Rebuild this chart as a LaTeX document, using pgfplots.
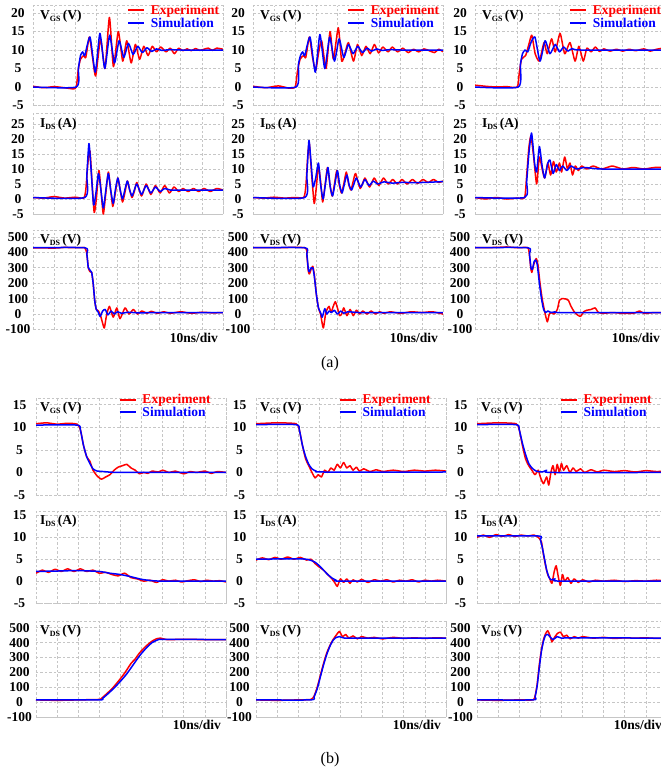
\documentclass[border=0pt]{standalone}
\usepackage{fontspec}
\setmainfont{Liberation Serif}
\usepackage{pgfplots}
\pgfplotsset{compat=1.18}
\newcommand{\tf}{\fontsize{13.5}{14}\selectfont\bfseries}
\newcommand{\qlab}[3]{\tf #1\raisebox{-0.35ex}{\fontsize{8}{8}\selectfont\bfseries #2}\,(#3)}
\pgfplotsset{
  wf/.style={scale only axis, width=190pt, xmin=0, xmax=9, xtick={0,1,...,9}, xticklabels={},
    grid=major, major grid style={gray!45, dash pattern=on 2.5pt off 2pt, line width=0.7pt},
    axis line style={gray!45, dash pattern=on 2.5pt off 2pt, line width=0.7pt},
    major tick length=0pt, anchor=north west, yticklabel style={font=\tf, anchor=center}, clip mode=individual,
    legend cell align=left,
    legend image code/.code={\draw[##1, line width=1.8pt] (0pt,0pt) -- (16pt,0pt); \path (20pt,0pt);}},
  ex/.style={red, line width=1.5pt, line join=round, smooth, tension=0.35},
  si/.style={blue, line width=1.5pt, line join=round, smooth, tension=0.35},
  ca/.style={yticklabel style={xshift=-15pt}},
  cb/.style={yticklabel style={xshift=-16.5pt}},
  aV/.style={wf, ca, height=99.9pt, ymin=-5, ymax=22, ytick={-5,0,5,10,15,20}, yticklabels={-5,0,5,10,15,20},
    legend style={draw=none, fill=none, at={(axis description cs:0.495,1.03)}, anchor=north west, font=\tf, inner sep=0pt, row sep=-2pt}},
  aI/.style={wf, ca, height=100.5pt, ymin=-5, ymax=28.5, ytick={-5,0,5,10,15,20,25}, yticklabels={-5,0,5,10,15,20,25}},
  aD/.style={wf, ca, height=99.5pt, ymin=-100, ymax=545, ytick={-100,0,100,200,300,400,500}, yticklabels={-100,0,100,200,300,400,500}},
  bV/.style={wf, cb, height=97pt, ymin=-5, ymax=16.5, ytick={-5,0,5,10,15}, yticklabels={-5,0,5,10,15},
    legend style={draw=none, fill=none, at={(axis description cs:0.435,1.06)}, anchor=north west, font=\tf, inner sep=0pt, row sep=-2.5pt}},
  bI/.style={wf, cb, height=92pt, ymin=-5, ymax=16, ytick={-5,0,5,10,15}, yticklabels={-5,0,5,10,15}},
  bD/.style={wf, cb, height=96pt, ymin=-100, ymax=545, ytick={-100,0,100,200,300,400,500}, yticklabels={-100,0,100,200,300,400,500}},
}
\newcommand{\lab}[4]{\node[anchor=north west, inner sep=0pt] at (axis description cs:0,1) [xshift=#4pt, yshift=-4pt] {\qlab{#1}{#2}{#3}};}
\newcommand{\perdiv}{\node[anchor=north east, inner sep=0pt, font=\tf] at (axis description cs:1,0) [xshift=-5pt, yshift=-3pt] {10ns/div};}
\begin{document}
\begin{tikzpicture}
\path[use as bounding box] (0,0) rectangle (661pt,-772pt);
% ===================== (a) row 1 : VGS =====================
\begin{axis}[aV, at={(33pt,-5.6pt)}]
\addplot[ex] coordinates {(0,0.2)(0.5,-0.2)(1,0.1)(1.5,-0.2)(1.9,-0.5)(2.05,0)(2.15,5)(2.25,7.5)(2.4,8.5)(2.5,8)(2.67,13.5)(2.82,8)(2.97,3)(3.2,13)(3.41,5)(3.62,18.8)(3.81,5.5)(4.04,15)(4.25,7)(4.44,12.5)(4.65,6.5)(4.85,11.5)(5.05,7.5)(5.25,11)(5.45,8.5)(5.65,11)(5.85,9.5)(6.05,10.8)(6.3,9.5)(6.5,10.5)(6.7,9)(6.9,10.5)(7.1,9.8)(7.3,10.3)(7.5,9.8)(7.7,10.4)(7.9,9.9)(8.1,10.2)(8.3,10.5)(8.5,9.9)(8.7,10.5)(9,10.2)};
\addlegendentry{\textcolor{red}{Experiment}}
\addplot[si] coordinates {(0,0)(2.05,0)(2.15,5)(2.25,8.5)(2.35,9.5)(2.45,8.5)(2.7,13.5)(2.95,4)(3.17,14.5)(3.4,5)(3.63,14)(3.86,6.5)(4.08,12.5)(4.3,8)(4.52,11.8)(4.74,8.8)(4.96,11)(5.18,9.3)(5.4,10.6)(5.62,9.6)(5.85,10.3)(6.1,9.9)(6.5,10.1)(7,10)(9,10)};
\addlegendentry{\textcolor{blue}{Simulation}}
\lab{V}{GS}{V}{7}
\end{axis}
\begin{axis}[aV, at={(253pt,-5.6pt)}]
\addplot[ex] coordinates {(0,0.2)(0.6,-0.2)(1.2,0.3)(1.7,-0.3)(2.0,0)(2.1,4)(2.23,7.5)(2.4,8.5)(2.5,8)(2.67,13.5)(2.82,8)(2.97,4.5)(3.1,9)(3.25,12.5)(3.46,5)(3.65,15)(3.81,7.5)(4.04,16)(4.2,7)(4.35,9)(4.52,12)(4.76,7)(4.95,11.5)(5.15,8.5)(5.35,11)(5.55,9)(5.75,11.5)(5.95,9.2)(6.15,10.8)(6.4,9.5)(6.6,10.8)(6.85,9.5)(7.1,10.5)(7.35,9.3)(7.6,10.2)(7.85,9.5)(8.1,10.3)(8.35,9.8)(8.6,9.3)(8.8,10.2)(9,9.5)};
\addlegendentry{\textcolor{red}{Experiment}}
\addplot[si] coordinates {(0,0)(2.04,0)(2.15,6)(2.25,8.5)(2.35,9.5)(2.45,8.5)(2.7,13.5)(2.95,4)(3.17,14.2)(3.4,5)(3.63,13.5)(3.86,7)(4.08,13)(4.3,8)(4.52,11.5)(4.74,9)(4.96,11)(5.18,9.3)(5.4,10.5)(5.62,9.7)(5.85,10.3)(6.1,9.9)(6.5,10.1)(7,10)(9,10)};
\addlegendentry{\textcolor{blue}{Simulation}}
\lab{V}{GS}{V}{7}
\end{axis}
\begin{axis}[aV, at={(475pt,-5.6pt)}]
\addplot[ex] coordinates {(0,0.5)(0.5,0.2)(1,0)(1.5,0.1)(2.0,0)(2.1,4)(2.2,7.5)(2.29,8)(2.4,8.5)(2.55,11.5)(2.69,14)(2.85,9)(3.05,7)(3.27,12)(3.42,9)(3.63,13)(3.8,9.5)(4.03,14.5)(4.25,9)(4.5,12)(4.74,7)(4.92,11)(5.13,7)(5.3,10.5)(5.5,9.5)(5.7,10.8)(5.9,9.6)(6.1,10.3)(6.4,9.7)(6.7,10.2)(7,9.7)(7.3,10.2)(7.6,9.8)(8,10.3)(8.3,9.7)(8.6,10.2)(9,10.6)};
\addlegendentry{\textcolor{red}{Experiment}}
\addplot[si] coordinates {(0,0)(2.05,0)(2.15,6)(2.25,9)(2.37,10)(2.5,9.5)(2.65,12)(2.84,13.5)(3.08,7)(3.32,12.5)(3.55,9)(3.8,11.5)(4.0,9.5)(4.2,10.8)(4.4,9.7)(4.6,10.4)(5,10)(9,10)};
\addlegendentry{\textcolor{blue}{Simulation}}
\lab{V}{GS}{V}{7}
\end{axis}
% ===================== (a) row 2 : IDS =====================
\begin{axis}[aI, at={(33pt,-113.5pt)}]
\addplot[ex] coordinates {(0,0.5)(0.5,0.3)(1,0.8)(1.5,0.3)(2,0.6)(2.4,0.3)(2.5,3)(2.6,12)(2.7,16)(2.8,5)(2.9,-4.5)(3.0,0)(3.12,9.5)(3.22,3)(3.33,-5)(3.45,2)(3.57,9)(3.68,3)(3.78,-2.5)(3.9,2)(4.02,7)(4.13,3)(4.24,-1)(4.35,2)(4.47,6)(4.58,3)(4.69,0.5)(4.8,2.5)(4.92,5.5)(5.14,1)(5.36,5)(5.58,1.5)(5.8,4.5)(6.02,2)(6.24,4.5)(6.46,2)(6.68,4)(6.9,2.5)(7.1,3.5)(7.35,2.5)(7.6,3.5)(7.85,2.5)(8.1,3.5)(8.4,2.5)(8.7,3.5)(9,3)};
\addplot[si] coordinates {(0,0.5)(2.45,0.5)(2.55,8)(2.65,18.5)(2.75,10)(2.87,-2)(2.98,2)(3.1,8.5)(3.2,4)(3.33,-3)(3.45,3)(3.57,8.5)(3.68,3)(3.8,-1.5)(3.9,3)(4.02,7)(4.13,3)(4.24,0)(4.35,3)(4.47,6)(4.58,3)(4.69,1)(4.8,3)(4.92,5)(5.14,1.5)(5.36,4.5)(5.58,2)(5.8,4)(6.02,2.5)(6.24,3.5)(6.5,3)(7,3)(8,3)(9,3)};
\lab{I}{DS}{A}{7}
\end{axis}
\begin{axis}[aI, at={(253pt,-113.5pt)}]
\addplot[ex] coordinates {(0,0.5)(0.5,0.3)(1,0.6)(1.5,0.3)(2,0.5)(2.4,0.5)(2.5,4)(2.6,15)(2.67,18.5)(2.78,8)(2.9,-1.5)(3.0,4)(3.1,11)(3.2,6)(3.3,-1)(3.42,5)(3.53,10.5)(3.64,5)(3.75,1)(3.86,5)(3.97,9.5)(4.08,5)(4.19,2)(4.3,5)(4.42,9)(4.53,5)(4.64,3)(4.75,6)(4.86,8.5)(5.08,3.5)(5.3,7)(5.52,4)(5.74,7)(5.96,4.5)(6.18,7)(6.4,5)(6.62,6.5)(6.84,5)(7.06,6.5)(7.3,5)(7.55,6.5)(7.8,5.2)(8.05,6.5)(8.3,5.5)(8.55,6.5)(8.8,5.5)(9,6)};
\addplot[si] coordinates {(0,0.5)(2.45,0.5)(2.55,8)(2.65,19.5)(2.75,12)(2.85,4)(2.97,7)(3.1,12)(3.2,5)(3.32,0)(3.43,5)(3.55,10.5)(3.66,4)(3.77,1)(3.88,5)(4.0,9.5)(4.11,4.5)(4.22,2)(4.33,5)(4.45,8)(4.56,4.5)(4.67,3)(4.78,5)(4.9,7)(5.1,4)(5.3,6.5)(5.5,4.5)(5.7,6)(5.9,5)(6.2,5.7)(6.6,5.3)(7,5.5)(8,5.5)(9,5.8)};
\lab{I}{DS}{A}{7}
\end{axis}
\begin{axis}[aI, at={(475pt,-113.5pt)}]
\addplot[ex] coordinates {(0,0.5)(0.5,0)(1,0.5)(1.5,0)(2,0.3)(2.35,0.5)(2.45,8)(2.55,17)(2.65,21)(2.78,14)(2.92,5)(3.05,14)(3.18,10)(3.3,7)(3.45,12)(3.58,8)(3.72,12.5)(3.85,9)(4.0,12)(4.1,9)(4.25,14)(4.38,10)(4.5,12)(4.62,8)(4.75,11)(4.9,9.5)(5.05,11)(5.3,10)(5.6,11)(6,10)(6.5,11)(7,10)(7.5,10.5)(8,10)(8.5,10.5)(9,10.5)};
\addplot[si] coordinates {(0,0.5)(2.35,0.5)(2.45,6)(2.55,15)(2.68,22)(2.82,12)(2.92,9)(3.05,17.5)(3.18,11)(3.3,7)(3.45,12)(3.55,13)(3.7,8.5)(3.85,11.5)(4.0,9.5)(4.15,11)(4.35,9.5)(4.55,11)(4.8,10)(5.2,10.5)(6,10)(9,10)};
\lab{I}{DS}{A}{7}
\end{axis}
% ===================== (a) row 3 : VDS =====================
\begin{axis}[aD, at={(33pt,-230pt)}]
\addplot[ex] coordinates {(0,430)(1,428)(1.5,432)(2,430)(2.45,430)(2.55,390)(2.62,300)(2.7,275)(2.78,270)(2.85,200)(2.93,80)(3.0,30)(3.1,20)(3.2,-10)(3.3,-60)(3.38,-90)(3.48,-10)(3.62,50)(3.8,-20)(3.97,40)(4.12,-30)(4.36,40)(4.55,0)(4.75,30)(4.95,0)(5.15,20)(5.4,5)(5.6,18)(5.9,5)(6.2,15)(6.5,5)(7,15)(7.5,5)(8,12)(8.5,8)(9,10)};
\addplot[si] coordinates {(0,430)(2.45,430)(2.55,390)(2.62,300)(2.7,285)(2.78,270)(2.85,200)(2.93,80)(3.0,30)(3.08,15)(3.18,-15)(3.3,20)(3.42,30)(3.55,-5)(3.7,20)(3.85,0)(4.0,15)(4.2,5)(4.5,12)(5,8)(6,10)(9,10)};
\lab{V}{DS}{V}{7}
\perdiv
\end{axis}
\begin{axis}[aD, at={(253pt,-230pt)}]
\addplot[ex] coordinates {(0,430)(1,430)(2.45,430)(2.55,380)(2.62,280)(2.67,260)(2.75,290)(2.83,310)(2.9,260)(3.0,130)(3.1,40)(3.2,0)(3.33,-90)(3.45,10)(3.6,50)(3.7,10)(3.8,50)(3.9,80)(4.0,40)(4.1,-10)(4.2,0)(4.3,40)(4.45,-10)(4.6,30)(4.75,-10)(4.9,25)(5.05,0)(5.2,20)(5.4,0)(5.6,20)(5.8,0)(6.0,15)(6.2,5)(6.5,15)(7,5)(7.5,15)(8,10)(8.5,15)(9,0)};
\addplot[si] coordinates {(0,430)(2.45,430)(2.55,390)(2.62,290)(2.67,275)(2.75,300)(2.83,300)(2.9,250)(3.0,130)(3.1,40)(3.2,10)(3.28,-20)(3.4,35)(3.5,0)(3.6,20)(3.72,10)(3.85,25)(4.0,0)(4.15,20)(4.3,5)(4.5,15)(5,10)(6,10)(9,10)};
\lab{V}{DS}{V}{7}
\perdiv
\end{axis}
\begin{axis}[aD, at={(475pt,-230pt)}]
\addplot[ex] coordinates {(0,430)(1,432)(1.5,435)(2,430)(2.5,430)(2.58,380)(2.64,300)(2.69,270)(2.78,320)(2.9,360)(2.98,320)(3.08,200)(3.18,100)(3.28,30)(3.36,-20)(3.43,-50)(3.52,0)(3.62,10)(3.75,0)(3.9,30)(4.0,90)(4.11,100)(4.3,98)(4.42,90)(4.55,50)(4.7,15)(4.85,-5)(5.0,-15)(5.15,15)(5.3,25)(5.5,30)(5.69,40)(5.85,10)(6.1,5)(6.5,10)(7,5)(7.5,5)(7.8,20)(8,5)(8.5,10)(9,10)};
\addplot[si] coordinates {(0,430)(2.5,430)(2.58,390)(2.65,300)(2.72,290)(2.8,340)(2.88,350)(2.95,320)(3.05,200)(3.15,100)(3.25,30)(3.35,10)(3.45,20)(3.6,10)(3.8,15)(4,10)(9,10)};
\lab{V}{DS}{V}{7}
\perdiv
\end{axis}
% ===================== (b) row 1 : VGS =====================
\begin{axis}[bV, at={(36pt,-398pt)}]
\addplot[ex] coordinates {(0,10.8)(0.5,11)(1,10.7)(1.5,10.9)(1.95,10.7)(2.1,9.5)(2.25,6)(2.4,3.5)(2.55,2.5)(2.7,0.5)(2.9,-0.8)(3.1,-1.5)(3.3,-1)(3.5,-0.5)(3.7,0.5)(3.9,1.2)(4.1,1.5)(4.3,1.8)(4.5,1)(4.7,0.5)(4.9,-0.3)(5.1,0)(5.3,-0.2)(5.5,0.3)(5.8,0.1)(6.0,0.5)(6.3,0)(6.6,0.3)(7.0,-0.3)(7.3,0.2)(7.6,0)(8,0.3)(8.3,-0.2)(8.6,0.2)(9,0)};
\addlegendentry{\textcolor{red}{Experiment}}
\addplot[si] coordinates {(0,10.5)(1.95,10.5)(2.1,9.5)(2.25,6)(2.4,3.5)(2.55,2)(2.7,0.8)(2.9,0.3)(3.2,0.2)(4,0)(9,0)};
\addlegendentry{\textcolor{blue}{Simulation}}
\lab{V}{GS}{V}{4}
\end{axis}
\begin{axis}[bV, at={(256pt,-398pt)}]
\addplot[ex] coordinates {(0,10.8)(1,11)(1.9,10.8)(2.05,9.5)(2.2,6)(2.35,3)(2.5,1.5)(2.65,0)(2.8,-1.2)(2.95,-0.5)(3.1,-1)(3.25,0.5)(3.4,0)(3.55,1)(3.7,0.5)(3.85,1.8)(4.0,1)(4.15,2.2)(4.3,1)(4.45,1.5)(4.6,0.5)(4.75,1.2)(4.9,0.3)(5.1,0.8)(5.4,0.2)(5.7,0.6)(6,0.2)(6.5,0.5)(7,0.2)(7.5,0.5)(8,0.3)(8.5,0.5)(9,0.3)};
\addlegendentry{\textcolor{red}{Experiment}}
\addplot[si] coordinates {(0,10.6)(1.9,10.6)(2.05,9.5)(2.2,6)(2.35,3.5)(2.5,1.8)(2.65,0.8)(2.85,0.3)(3.2,0.1)(9,0.1)};
\addlegendentry{\textcolor{blue}{Simulation}}
\lab{V}{GS}{V}{4}
\end{axis}
\begin{axis}[bV, at={(477pt,-398pt)}]
\addplot[ex] coordinates {(0,10.8)(1,11)(1.85,10.8)(2.0,9.5)(2.15,6)(2.3,3)(2.45,1.5)(2.6,0.5)(2.75,-0.5)(2.9,0.5)(3.0,-1)(3.15,-2.5)(3.3,-1)(3.4,-2.8)(3.5,0)(3.6,1.5)(3.7,-0.5)(3.8,1.8)(3.9,0)(4.0,2)(4.1,0.5)(4.25,1.5)(4.4,0)(4.55,1)(4.7,0.2)(4.9,0.8)(5.1,0)(5.4,0.6)(5.7,0.1)(6,0.5)(6.5,0.2)(7,0.4)(7.5,0.1)(8,0.4)(8.5,0.2)(9,0.3)};
\addlegendentry{\textcolor{red}{Experiment}}
\addplot[si] coordinates {(0,10.6)(1.85,10.6)(2.0,9.5)(2.15,6.5)(2.3,4)(2.45,2)(2.6,1)(2.8,0.3)(3.1,0.1)(3.3,0.5)(3.5,0)(9,0)};
\addlegendentry{\textcolor{blue}{Simulation}}
\lab{V}{GS}{V}{4}
\end{axis}
% ===================== (b) row 2 : IDS =====================
\begin{axis}[bI, at={(36pt,-511pt)}]
\addplot[ex] coordinates {(0,1.8)(0.3,2.5)(0.6,2.0)(0.9,2.7)(1.2,2.2)(1.5,2.8)(1.8,2.2)(2.1,2.8)(2.4,2.2)(2.7,2.5)(3.0,1.8)(3.3,2.0)(3.6,1.5)(3.9,1.2)(4.2,1.8)(4.5,0.8)(4.8,0.5)(5.1,0)(5.4,0.2)(5.7,-0.3)(6.0,0.3)(6.3,0)(6.6,0.2)(6.9,-0.2)(7.2,0.1)(7.5,0.3)(7.8,-0.1)(8.1,0.2)(8.4,0)(8.7,0.1)(9,-0.2)};
\addplot[si] coordinates {(0,2.2)(1,2.3)(2,2.4)(3,2.2)(3.5,1.8)(4,1.5)(4.5,1.0)(5,0.4)(5.5,0.1)(6,0)(9,0)};
\lab{I}{DS}{A}{4}
\end{axis}
\begin{axis}[bI, at={(256pt,-511pt)}]
\addplot[ex] coordinates {(0,4.8)(0.3,5.3)(0.6,4.9)(0.9,5.4)(1.2,5.0)(1.5,5.5)(1.8,5.0)(2.1,5.4)(2.4,4.8)(2.6,5.0)(2.8,4.0)(3.0,3.2)(3.2,2.5)(3.4,1.5)(3.6,0.5)(3.75,-0.5)(3.85,-1.2)(4.0,0.5)(4.15,-0.3)(4.3,0.5)(4.45,-0.5)(4.6,0.3)(4.8,-0.2)(5.0,0.4)(5.3,-0.3)(5.6,0.3)(5.9,0)(6.2,0.3)(6.5,-0.2)(6.8,0.2)(7.1,0)(7.4,0.3)(7.7,-0.2)(8,0.2)(8.3,0)(8.6,0.2)(9,0)};
\addplot[si] coordinates {(0,5)(2,5.1)(2.5,4.9)(2.8,4.3)(3.0,3.5)(3.2,2.5)(3.4,1.5)(3.6,0.7)(3.8,0.2)(4,0)(9,0)};
\lab{I}{DS}{A}{4}
\end{axis}
\begin{axis}[bI, at={(477pt,-511pt)}]
\addplot[ex] coordinates {(0,10)(0.3,10.5)(0.6,10)(0.9,10.6)(1.2,10.2)(1.5,10.6)(1.8,10.2)(2.1,10.5)(2.4,10.3)(2.7,10.5)(2.9,10)(3.05,9)(3.15,6)(3.25,3.5)(3.35,1.5)(3.45,0.5)(3.55,-0.5)(3.65,2)(3.75,3.5)(3.85,1)(3.95,-1)(4.05,1.5)(4.15,0)(4.3,0.8)(4.45,-0.5)(4.6,0.5)(4.8,-0.3)(5.0,0.3)(5.3,-0.2)(5.6,0.2)(6,0)(6.5,0.2)(7,-0.1)(7.5,0.1)(8,0)(8.5,0.2)(9,0)};
\addplot[si] coordinates {(0,10.3)(2.9,10.3)(3.0,9.5)(3.1,7.5)(3.2,5)(3.3,2.5)(3.4,1)(3.5,0.3)(3.7,0.5)(3.9,0)(9,0)};
\lab{I}{DS}{A}{4}
\end{axis}
% ===================== (b) row 3 : VDS =====================
\begin{axis}[bD, at={(36pt,-621pt)}]
\addplot[ex] coordinates {(0,15)(1,12)(2,15)(3,18)(3.1,25)(3.3,50)(3.6,90)(3.9,140)(4.2,195)(4.5,260)(4.7,290)(4.9,330)(5.2,375)(5.5,410)(5.7,425)(5.9,430)(6.2,420)(7,422)(8,420)(9,420)};
\addplot[si] coordinates {(0,15)(3,15)(3.15,25)(3.4,55)(3.7,95)(4.0,140)(4.3,190)(4.6,250)(4.9,310)(5.2,360)(5.5,400)(5.8,420)(6,422)(9,420)};
\lab{V}{DS}{V}{4}
\perdiv
\end{axis}
\begin{axis}[bD, at={(256pt,-621pt)}]
\addplot[ex] coordinates {(0,15)(1,12)(2,15)(2.6,18)(2.75,40)(2.9,100)(3.05,180)(3.2,260)(3.35,330)(3.5,380)(3.65,420)(3.8,450)(3.95,475)(4.1,440)(4.25,455)(4.4,430)(4.6,445)(4.8,425)(5.0,440)(5.3,430)(5.6,435)(6,425)(6.5,435)(7,428)(7.5,432)(8,428)(8.5,432)(9,430)};
\addplot[si] coordinates {(0,15)(2.6,15)(2.75,35)(2.9,90)(3.05,170)(3.2,250)(3.35,320)(3.5,375)(3.65,415)(3.8,435)(3.95,440)(4.2,430)(5,430)(9,430)};
\lab{V}{DS}{V}{4}
\perdiv
\end{axis}
\begin{axis}[bD, at={(477pt,-621pt)}]
\addplot[ex] coordinates {(0,15)(1,12)(2,15)(2.65,15)(2.75,40)(2.85,120)(2.95,250)(3.05,350)(3.15,420)(3.25,460)(3.35,480)(3.45,450)(3.55,405)(3.65,430)(3.8,460)(3.95,470)(4.1,440)(4.25,450)(4.4,425)(4.6,440)(4.8,430)(5.0,440)(5.5,430)(6,435)(6.5,428)(7,432)(7.5,430)(8,432)(8.5,428)(9,430)};
\addplot[si] coordinates {(0,15)(2.65,15)(2.75,35)(2.85,110)(2.95,230)(3.05,340)(3.15,410)(3.25,450)(3.35,455)(3.45,440)(3.6,420)(3.8,440)(4.0,430)(4.5,432)(9,430)};
\lab{V}{DS}{V}{4}
\perdiv
\end{axis}
\node[font=\fontsize{16}{16}\selectfont] at (330pt,-364pt) {(a)};
\node[font=\fontsize{16}{16}\selectfont] at (330pt,-760pt) {(b)};
\end{tikzpicture}
\end{document}
